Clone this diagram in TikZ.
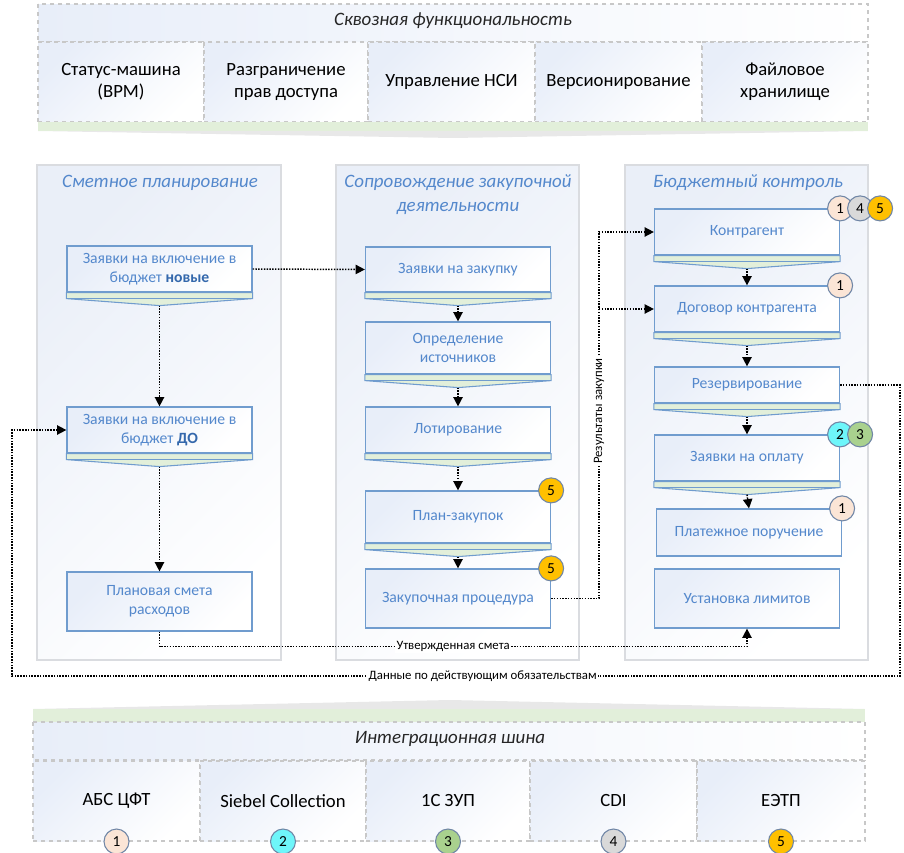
\documentclass[tikz,border=0pt]{standalone}
\usepackage{fontspec}
\setmainfont{Carlito}
\usetikzlibrary{arrows.meta,calc}
\definecolor{boxline}{RGB}{112,156,206}
\definecolor{boxtext}{RGB}{84,136,204}
\definecolor{boxbold}{RGB}{52,104,172}
\definecolor{boxtint}{RGB}{232,238,249}
\definecolor{stripfill}{RGB}{226,239,218}
\definecolor{panelline}{RGB}{218,220,224}
\definecolor{paneltint}{RGB}{234,239,248}
\definecolor{bandline}{RGB}{200,200,200}
\definecolor{shadowgray}{RGB}{232,232,232}
\definecolor{badgeline}{RGB}{112,134,166}
\definecolor{badgeA}{RGB}{251,229,214}
\definecolor{badgeB}{RGB}{110,246,250}
\definecolor{badgeC}{RGB}{169,209,142}
\definecolor{badgeD}{RGB}{217,217,217}
\definecolor{badgeE}{RGB}{255,192,0}
\begin{document}
\begin{tikzpicture}[x=0.75pt,y=-0.75pt,
	panel/.style={draw=panelline,line width=1pt,top color=paneltint,bottom color=white,shading angle=45},
	stepbox/.style={draw=boxline,line width=0.9pt,top color=boxtint,bottom color=white,shading angle=45,text=boxtext,align=center,font=\fontsize{11.75}{14.25}\selectfont,minimum width=138.75pt,inner sep=2pt},
	coltitle/.style={text=boxtext,align=center,font=\fontsize{14.2}{18}\selectfont\itshape},
	bandcell/.style={draw=bandline,dashed,line width=0.8pt,top color=boxtint,bottom color=white,shading angle=45,minimum height=60pt,align=center,font=\fontsize{14}{16.5}\selectfont},
	bandtitle/.style={text=black!85,font=\fontsize{14.2}{16}\selectfont\itshape},
	badge/.style={circle,draw=badgeline,line width=0.8pt,minimum size=18.75pt,inner sep=0pt,font=\fontsize{11.5}{12}\selectfont},
	flow/.style={densely dotted,line width=1.1pt,-{Triangle[length=7pt,width=7pt]}},
	flowlabel/.style={fill=white,inner sep=1pt,font=\fontsize{9.6}{11}\selectfont}]
	\useasboundingbox (0,0) rectangle (904,853);

	\draw[bandline,dashed,line width=0.8pt,left color=boxtint,right color=white] (38,4) rectangle (868,42);
	\node[bandtitle] (toptitle) at (453,21) {Сквозная функциональность};
	\node[bandcell,minimum width=124.5pt] (f1) at (121,82) {Статус-машина\\(BPM)};
	\node[bandcell,minimum width=123pt] (f2) at (286,82) {Разграничение\\прав доступа};
	\node[bandcell,minimum width=125.25pt] (f3) at (451.5,82) {Управление НСИ};
	\node[bandcell,minimum width=125.25pt] (f4) at (618.5,82) {Версионирование};
	\node[bandcell,minimum width=124.5pt] (f5) at (785,82) {Файловое\\хранилище};
	\fill[shadowgray] (38,131) -- (453,138) -- (868,131) -- cycle;
	\fill[stripfill] (38,122) rectangle (868,131);

	\draw[panel] (37,165) rectangle (281,660);
	\draw[panel] (336,165) rectangle (579,660);
	\draw[panel] (625,165) rectangle (868,660);
	\node[coltitle] (plan) at (160,183) {Сметное планирование};
	\node[coltitle] (proc) at (458,195) {Сопровождение закупочной\\деятельности};
	\node[coltitle] (ctrl) at (748,183) {Бюджетный контроль};

	\node[stepbox,minimum height=34.5pt] (b1) at (159.5,269) {Заявки на включение в\\бюджет \textcolor{boxbold}{\textbf{новые}}};
	\node[stepbox,minimum height=34.5pt] (b2) at (159.5,430) {Заявки на включение в\\бюджет \textcolor{boxbold}{\textbf{ДО}}};
	\node[stepbox,minimum height=44.25pt] (b3) at (159.5,601.5) {Плановая смета\\расходов};

	\node[stepbox,minimum height=33.75pt] (m1) at (458,269.5) {Заявки на закупку};
	\node[stepbox,minimum height=39pt] (m2) at (458,348) {Определение\\источников};
	\node[stepbox,minimum height=34.5pt] (m3) at (458,430) {Лотирование};
	\node[stepbox,minimum height=39pt] (m4) at (458,517) {План-закупок};
	\node[stepbox,minimum height=44.25pt] (m5) at (458,598.5) {Закупочная процедура};

	\node[stepbox,minimum height=34.5pt] (r1) at (747,232) {Контрагент};
	\node[stepbox,minimum height=34.5pt] (r2) at (747,309) {Договор контрагента};
	\node[stepbox,minimum height=27pt] (r3) at (747,385) {Резервирование};
	\node[stepbox,minimum height=34.5pt] (r4) at (747,458) {Заявки на оплату};
	\node[stepbox,minimum height=35.25pt] (r5) at (749,532.5) {Платежное поручение};
	\node[stepbox,minimum height=44.25pt] (r6) at (747,598.5) {Установка лимитов};

	\foreach \n in {b1,b2,m1,m2,m3,m4,r1,r2,r3,r4}{
		\draw[boxline,line width=0.8pt,fill=stripfill] (\n.south west) -- ++(0,6) -- ($(\n.south)+(0,13)$) -- ($(\n.south east)+(0,6)$) -- (\n.south east) -- cycle;
		\draw[boxline,line width=0.8pt] ($(\n.south west)+(0,6)$) -- ($(\n.south east)+(0,6)$);
		\coordinate (\n-tip) at ($(\n.south)+(0,13)$);
	}

	\draw[flow] (b1-tip) -- (b2.north);
	\draw[flow] (b2-tip) -- (b3.north);
	\draw[flow] (m1-tip) -- (m2.north);
	\draw[flow] (m2-tip) -- (m3.north);
	\draw[flow] (m3-tip) -- (m4.north);
	\draw[flow] (m4-tip) -- (m5.north);
	\draw[flow] (r1-tip) -- (r2.north);
	\draw[flow] (r2-tip) -- (r3.north);
	\draw[flow] (r3-tip) -- (r4.north);
	\draw[flow] (r4-tip) -- (r5.north);

	\draw[flow] (b1.east) -- (m1.west);
	\coordinate (res) at (599,411);
	\draw[flow] (m5.east) -| (res |- r1.west) -- (r1.west);
	\draw[flow] (res |- r2.west) -- (r2.west);
	\node[flowlabel,rotate=90] (reslabel) at (res) {Результаты закупки};
	\draw[flow] (b3.south) -- ++(0,15) -| node[flowlabel,pos=0.25] (estlabel) {Утвержденная смета} (r6.south);
	\coordinate (outr) at (900,676);
	\coordinate (outl) at (12,676);
	\draw[flow] (r3.east) -| (outr) -- node[flowlabel,pos=0.47] (oblabel) {Данные по действующим обязательствам} (outl) |- (b2.west);

	\node[badge,fill=badgeE] (m4e) at (m4.north east) {5};
	\node[badge,fill=badgeE] (m5e) at (m5.north east) {5};
	\node[badge,fill=badgeA] (r1a) at (r1.north east) {1};
	\node[badge,fill=badgeD] (r1d) at ($(r1.north east)+(20,0)$) {4};
	\node[badge,fill=badgeE] (r1e) at ($(r1.north east)+(40,0)$) {5};
	\node[badge,fill=badgeA] (r2a) at (r2.north east) {1};
	\node[badge,fill=badgeB] (r4b) at (r4.north east) {2};
	\node[badge,fill=badgeC] (r4c) at ($(r4.north east)+(20,0)$) {3};
	\node[badge,fill=badgeA] (r5a) at (r5.north east) {1};

	\fill[shadowgray] (33,709) -- (450,700) -- (865,709) -- cycle;
	\fill[stripfill] (33,709) rectangle (865,722);
	\draw[bandline,dashed,line width=0.8pt,left color=boxtint,right color=white] (33,722) rectangle (865,760);
	\node[bandtitle] (bus) at (450,739) {Интеграционная шина};
	\node[bandcell,minimum width=125.25pt] (s1) at (116.5,801) {АБС ЦФТ};
	\node[bandcell,minimum width=124.5pt] (s2) at (283,801) {Siebel Collection};
	\node[bandcell,minimum width=123pt] (s3) at (448,801) {1С ЗУП};
	\node[bandcell,minimum width=125.25pt] (s4) at (613.5,801) {CDI};
	\node[bandcell,minimum width=126pt] (s5) at (781,801) {ЕЭТП};
	\node[badge,fill=badgeA] (s1a) at (s1.south) {1};
	\node[badge,fill=badgeB] (s2b) at (s2.south) {2};
	\node[badge,fill=badgeC] (s3c) at (s3.south) {3};
	\node[badge,fill=badgeD] (s4d) at (s4.south) {4};
	\node[badge,fill=badgeE] (s5e) at (s5.south) {5};
\end{tikzpicture}
\end{document}
